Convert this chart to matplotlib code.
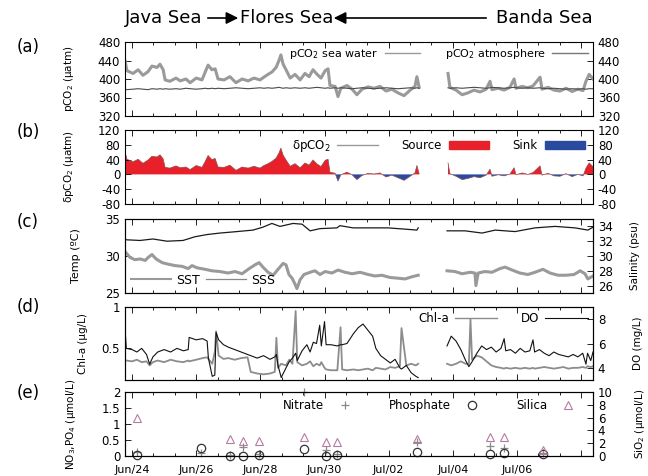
import numpy as np
import pandas as pd
import matplotlib
matplotlib.use("Agg")
import matplotlib.pyplot as plt
from matplotlib.ticker import MultipleLocator, FuncFormatter, FixedLocator
from matplotlib.patches import Patch, FancyArrowPatch
from matplotlib.lines import Line2D

plt.rcParams['font.family'] = ['DejaVu Sans']
plt.rcParams['font.size'] = 8.5
plt.rcParams['mathtext.default'] = 'regular'
plt.rcParams['axes.unicode_minus'] = False

START = pd.Timestamp('2015-06-24')
nan = np.nan

# ---- (a)/(b) pCO2, days since Jun/24 00:00 ----
pco2_days = [-0.22, -0.16, 0.03, 0.19, 0.34, 0.50, 0.62, 0.78, 0.87, 0.97,
             1.03, 1.18, 1.37, 1.50, 1.68, 1.81, 2.00, 2.18, 2.28, 2.37,
             2.49, 2.59, 2.68, 2.87, 3.05, 3.24, 3.43, 3.62, 3.80, 3.99,
             4.11, 4.24, 4.36, 4.49, 4.58, 4.64, 4.71, 4.80, 4.93, 5.08,
             5.24, 5.39, 5.52, 5.64, 5.77, 5.89, 6.02, 6.11, 6.17, 6.33,
             6.42, 6.51, 6.70, 6.86, 7.01, 7.17, 7.36, 7.54, 7.73, 7.92,
             8.10, 8.29, 8.48, 8.67, 8.82, 8.88, 8.95, 9.40, 9.85, 9.91,
             10.10, 10.29, 10.47, 10.66, 10.85, 11.04, 11.16, 11.22, 11.41, 11.60,
             11.78, 11.91, 11.97, 12.16, 12.34, 12.50, 12.72, 12.78, 12.97, 13.15,
             13.34, 13.53, 13.72, 13.90, 14.06, 14.15, 14.25, 14.37]
pco2_sea = [440, 418, 412, 420, 408, 416, 428, 425, 432, 420,
            398, 395, 402, 396, 400, 392, 402, 398, 415, 430,
            420, 422, 400, 398, 405, 392, 400, 396, 402, 398,
            404, 410, 415, 425, 440, 452, 432, 420, 402, 410,
            398, 412, 405, 420, 410, 402, 418, 422, 386, 384,
            362, 380, 386, 378, 366, 378, 383, 380, 384, 374,
            378, 370, 364, 376, 384, 405, 382, nan, 412, 382,
            376, 366, 370, 376, 372, 378, 395, 377, 380, 376,
            382, 400, 380, 384, 381, 385, 404, 378, 382, 376,
            374, 380, 373, 378, 375, 395, 410, 400]
pco2_atm = [378, 377, 378, 379, 378, 377, 379, 378, 379, 378,
            379, 378, 379, 378, 380, 379, 378, 379, 380, 379,
            380, 379, 380, 379, 380, 381, 380, 379, 380, 381,
            380, 381, 380, 381, 382, 381, 380, 381, 380, 381,
            380, 381, 380, 381, 382, 381, 380, 381, 380, 381,
            380, 381, 380, 379, 380, 381, 380, 379, 380, 381,
            380, 379, 380, 381, 380, 381, 380, nan, 381, 380,
            381, 380, 381, 382, 381, 380, 381, 382, 381, 380,
            381, 382, 381, 380, 381, 380, 381, 380, 379, 380,
            379, 378, 379, 378, 379, 378, 379, 379]

# ---- (c) SST / SSS ----
sst_days = [-0.22, -0.06, 0.09, 0.25, 0.41, 0.50, 0.62, 0.75, 0.94, 1.12,
            1.34, 1.56, 1.75, 1.87, 2.03, 2.28, 2.49, 2.74, 2.99, 3.21,
            3.43, 3.62, 3.83, 3.96, 4.08, 4.24, 4.40, 4.55, 4.71, 4.80,
            4.89, 4.99, 5.08, 5.14, 5.24, 5.36, 5.55, 5.70, 5.86, 6.02,
            6.23, 6.42, 6.64, 6.86, 7.11, 7.36, 7.57, 7.79, 8.04, 8.29,
            8.51, 8.73, 8.92, 9.40, 9.82, 10.07, 10.29, 10.54, 10.69, 10.72,
            10.79, 11.00, 11.22, 11.47, 11.63, 11.85, 12.09, 12.34, 12.56, 12.81,
            13.03, 13.28, 13.53, 13.78, 13.97, 14.12, 14.21, 14.37]
sst = [30.6, 29.8, 29.5, 29.6, 29.4, 29.8, 30.2, 29.6, 29.1, 28.9,
       28.7, 28.6, 28.3, 28.7, 28.4, 28.2, 28.0, 27.9, 27.7, 27.9,
       27.6, 28.2, 28.8, 29.1, 28.5, 27.8, 27.4, 28.2, 29.0, 28.8,
       27.5, 27.0, 26.2, 25.6, 26.8, 27.5, 27.8, 28.0, 27.5, 27.9,
       27.7, 28.1, 27.8, 27.6, 27.8, 27.5, 27.3, 27.4, 27.1, 27.0,
       26.9, 27.2, 27.4, nan, 28.0, 27.9, 27.6, 27.8, 27.7, 26.0,
       27.7, 27.9, 27.8, 28.3, 28.5, 28.1, 27.7, 27.5, 27.8, 28.2,
       27.7, 27.4, 27.4, 27.5, 28.0, 27.6, 26.9, 27.3]
sss_days = [-0.22, 0.25, 0.65, 1.09, 1.59, 1.96, 2.34, 2.74, 3.27, 3.77,
            4.08, 4.36, 4.61, 5.02, 5.30, 5.55, 5.86, 6.39, 6.48, 6.89,
            7.26, 7.98, 8.60, 8.88, 8.92, 9.40, 9.82, 10.38, 10.91, 11.32,
            11.94, 12.56, 13.19, 13.81, 14.21, 14.37]
sss = [32.2, 32.1, 32.3, 32.0, 32.1, 32.6, 32.9, 33.1, 33.3, 33.5,
       33.9, 34.4, 34.0, 34.4, 34.3, 33.4, 33.7, 33.8, 34.1, 33.8,
       33.8, 33.8, 33.6, 33.5, 33.8, nan, 33.4, 33.4, 33.1, 33.5,
       33.3, 33.8, 34.0, 33.8, 33.5, 33.9]

# ---- (d) Chl-a / DO ----
bio_days = [-0.22, -0.18, 0.00, 0.15, 0.30, 0.45, 0.55, 0.65, 0.80, 1.00,
            1.20, 1.40, 1.60, 1.75, 1.78, 2.00, 2.20, 2.34, 2.38, 2.50,
            2.58, 2.62, 2.70, 2.85, 3.00, 3.20, 3.40, 3.60, 3.70, 3.90,
            4.10, 4.30, 4.45, 4.50, 4.55, 4.65, 4.80, 4.90, 5.00, 5.10,
            5.15, 5.30, 5.45, 5.55, 5.65, 5.75, 5.85, 5.90, 6.00, 6.05,
            6.20, 6.40, 6.50, 6.55, 6.70, 6.90, 7.05, 7.20, 7.35, 7.50,
            7.60, 7.75, 7.90, 8.05, 8.20, 8.35, 8.40, 8.55, 8.70, 8.85,
            8.92, 9.40, 9.82, 9.95, 10.10, 10.25, 10.40, 10.50, 10.55, 10.60,
            10.75, 10.90, 11.05, 11.20, 11.35, 11.50, 11.60, 11.65, 11.80, 11.95,
            12.10, 12.25, 12.40, 12.50, 12.55, 12.70, 12.85, 13.00, 13.15, 13.30,
            13.45, 13.60, 13.75, 13.90, 14.05, 14.15, 14.20, 14.30, 14.37]
dox = [7.3, 5.6, 5.5, 5.3, 5.6, 5.1, 4.3, 4.9, 5.3, 5.5,
       5.3, 5.6, 5.4, 5.5, 6.5, 6.3, 6.4, 6.2, 4.8, 3.3,
       3.4, 6.9, 6.3, 5.9, 5.7, 5.5, 5.3, 5.1, 5.0, 4.8,
       5.0, 4.7, 4.9, 5.1, 4.2, 3.2, 4.0, 4.5, 4.8, 5.2,
       4.6, 5.4, 5.9, 5.3, 6.1, 6.0, 7.5, 5.8, 7.8, 5.9,
       5.9, 5.8, 5.9, 5.9, 6.0, 6.8, 7.3, 7.6, 7.1, 6.6,
       5.6, 5.0, 4.7, 4.4, 4.7, 4.0, 3.9, 4.2, 3.6, 3.3,
       3.2, nan, 5.8, 6.6, 6.2, 5.5, 4.6, 4.1, 4.3, 4.5,
       5.2, 5.8, 5.5, 5.7, 5.3, 5.6, 6.4, 5.4, 5.5, 5.2,
       5.6, 5.3, 5.4, 6.3, 5.3, 5.5, 5.2, 5.0, 5.3, 5.1,
       5.0, 4.9, 5.1, 4.9, 5.2, 4.3, 5.2, 4.6, 5.3]
chla = [0.35, 0.34, 0.33, 0.35, 0.32, 0.33, 0.28, 0.32, 0.34, 0.32,
        0.35, 0.33, 0.32, 0.34, 0.33, 0.35, 0.37, 0.38, 0.36, 0.30,
        0.45, 0.70, 0.40, 0.36, 0.37, 0.35, 0.37, 0.38, 0.20, 0.18,
        0.17, 0.18, 0.20, 0.62, 0.25, 0.30, 0.28, 0.35, 0.30, 0.95,
        0.32, 0.28, 0.30, 0.33, 0.27, 0.30, 0.28, 0.32, 0.25, 0.23,
        0.22, 0.22, 0.75, 0.23, 0.22, 0.23, 0.22, 0.23, 0.24, 0.22,
        0.25, 0.24, 0.23, 0.26, 0.25, 0.27, 0.74, 0.28, 0.30, 0.28,
        0.30, nan, 0.30, 0.28, 0.30, 0.33, 0.30, 0.30, 0.85, 0.35,
        0.40, 0.38, 0.33, 0.28, 0.26, 0.25, 0.24, 0.25, 0.24, 0.25,
        0.24, 0.25, 0.24, 0.25, 0.24, 0.25, 0.26, 0.25, 0.24, 0.25,
        0.26, 0.24, 0.25, 0.25, 0.26, 0.25, 0.27, 0.26, 0.27]

# ---- (e) nutrients ----
nut_days = [0.16, 2.15, 3.05, 3.45, 3.95, 5.36, 6.05, 6.38, 8.88, 11.16, 11.60, 12.80]
nitrate = [0.12, 0.08, 0.02, 0.29, 0.06, 2.0, 0.19, 0.05, 0.45, 0.31, 0.24, 0.10]
phosphate = [0.03, 0.24, 0.0, 0.0, 0.03, 0.21, 0.0, 0.02, 0.14, 0.06, 0.10, 0.06]
silica = [6.0, nan, 2.7, 2.4, 2.4, 3.0, 2.2, 2.2, 2.7, 2.9, 2.9, 0.94]

XMIN, XMAX = -0.22, 14.37

fig = plt.figure(figsize=(6.48, 4.76), dpi=100)
L, W = 125 / 648, 468 / 648


def panel(top, bottom):
    return fig.add_axes([L, 1 - bottom / 476, W, (bottom - top) / 476])


def style(ax, right=True):
    ax.set_xlim(XMIN, XMAX)
    ax.xaxis.set_major_locator(MultipleLocator(2))
    ax.xaxis.set_minor_locator(MultipleLocator(2 / 3))
    ax.tick_params(which='both', direction='in', top=True, right=right)
    ax.tick_params(which='major', length=4, width=0.6)
    ax.tick_params(which='minor', length=2.5, width=0.6)
    ax.tick_params(axis='x', labelbottom=False)
    for s in ax.spines.values():
        s.set_linewidth(0.8)


def datefmt(d, pos):
    if d > 13:
        return ''
    return (START + pd.Timedelta(days=d)).strftime('%b/%d')


x_p = np.array(pco2_days)
sea = np.array(pco2_sea, dtype=float)
atm = np.array(pco2_atm, dtype=float)
dpco2 = sea - atm

# (a)
axa = panel(42, 116)
style(axa)
axa.plot(x_p, sea, color='#9a9a9a', lw=2.2)
axa.plot(x_p, atm, color='#4a4a4a', lw=0.8)
axa.set_ylim(320, 480)
axa.yaxis.set_major_locator(MultipleLocator(40))
axa.tick_params(axis='y', labelright=True)
axa.set_ylabel('pCO$_2$ (µatm)', fontsize=7.5)
axa.yaxis.set_label_coords(-0.105, 0.5)
ha = [Line2D([], [], color='#9a9a9a', lw=1), Line2D([], [], color='#777777', lw=1)]
axa.legend(ha, ['pCO$_2$ sea water', 'pCO$_2$ atmosphere'], loc='upper right', ncol=2,
           frameon=False, markerfirst=False, fontsize=8, handlelength=3.2,
           columnspacing=2.2, borderaxespad=0.05, handletextpad=0.6)

# (b)
axb = panel(130, 204)
style(axb)
axb.fill_between(x_p, 0, dpco2, where=dpco2 >= 0, interpolate=True, color='#e8202a', lw=0)
axb.fill_between(x_p, 0, dpco2, where=dpco2 < 0, interpolate=True, color='#2a4aa0', lw=0)
axb.plot(x_p, dpco2, color='#8a5050', lw=0.5)
axb.set_ylim(-80, 120)
axb.yaxis.set_major_locator(MultipleLocator(40))
axb.tick_params(axis='y', labelright=True)
axb.set_ylabel('δpCO$_2$ (µatm)', fontsize=7.5)
axb.yaxis.set_label_coords(-0.105, 0.5)
hb = [Line2D([], [], color='#9a9a9a', lw=1), Patch(color='#e8202a'), Patch(color='#2a4aa0')]
axb.legend(hb, ['δpCO$_2$', 'Source', 'Sink'], loc='upper right', ncol=3,
           frameon=False, markerfirst=False, fontsize=8.5, handlelength=3.4,
           handleheight=0.6, columnspacing=2.0, borderaxespad=0.3, handletextpad=0.6)

# (c)
axc = panel(219, 293)
style(axc, right=False)
axc.plot(sst_days, sst, color='#9a9a9a', lw=2.2)
axc.set_ylim(25, 35)
axc.yaxis.set_major_locator(MultipleLocator(5))
axc.set_ylabel('Temp (ºC)', fontsize=8)
axc.yaxis.set_label_coords(-0.095, 0.5)
axc2 = axc.twinx()
axc2.plot(sss_days, sss, color='#1a1a1a', lw=0.9)
axc2.set_ylim(25, 35)
axc2.yaxis.set_major_locator(FixedLocator([26, 28, 30, 32, 34]))
axc2.tick_params(direction='in', length=4, width=0.6)
axc2.set_ylabel('Salinity (psu)', fontsize=7.5)
axc2.yaxis.set_label_coords(1.08, 0.5)
hc = [Line2D([], [], color='#9a9a9a', lw=1.5), Line2D([], [], color='#888888', lw=0.9)]
axc.legend(hc, ['SST', 'SSS'], loc='lower left', ncol=2, frameon=False,
           markerfirst=True, fontsize=9, handlelength=3.2, columnspacing=0.5,
           borderaxespad=0.1, handletextpad=0.4)

# (d)
axd = panel(307, 380)
style(axd, right=False)
axd.plot(bio_days, chla, color='#8c8c8c', lw=1.3)
axd.set_ylim(0.1, 1)
axd.yaxis.set_major_locator(FixedLocator([0.5, 1]))
axd.yaxis.set_major_formatter(FuncFormatter(lambda v, p: '%g' % v))
axd.set_ylabel('Chl-a (µg/L)', fontsize=7.5)
axd.yaxis.set_label_coords(-0.08, 0.5)
axd2 = axd.twinx()
axd2.plot(bio_days, dox, color='#111111', lw=0.8)
axd2.set_ylim(3, 9)
axd2.yaxis.set_major_locator(FixedLocator([4, 6, 8]))
axd2.tick_params(direction='in', length=4, width=0.6)
axd2.set_ylabel('DO (mg/L)', fontsize=7.5)
axd2.yaxis.set_label_coords(1.085, 0.5)
hd = [Line2D([], [], color='#8c8c8c', lw=1), Line2D([], [], color='#111111', lw=0.8)]
axd.legend(hd, ['Chl-a', 'DO'], loc='upper right', ncol=2, frameon=False,
           markerfirst=False, fontsize=8.5, handlelength=3.6, columnspacing=2.0,
           borderaxespad=0.05, handletextpad=0.5)

# (e)
axe = panel(392, 456)
style(axe, right=False)
axe.plot(nut_days, nitrate, ls='none', marker='+', ms=6, mew=0.9, color='#8a8a8a', clip_on=False)
axe.plot(nut_days, phosphate, ls='none', marker='o', ms=6, mew=0.9, mfc='none', mec='#333333', clip_on=False)
axe.set_ylim(0, 2)
axe.yaxis.set_major_locator(MultipleLocator(0.5))
axe.yaxis.set_major_formatter(FuncFormatter(lambda v, p: '%g' % v))
axe.set_ylabel('NO$_3$,PO$_4$ (µmol/L)', fontsize=7.5)
axe.yaxis.set_label_coords(-0.1, 0.5)
axe.tick_params(axis='x', labelbottom=True, labelsize=8, pad=6.5)
axe.xaxis.set_major_formatter(FuncFormatter(datefmt))
axe2 = axe.twinx()
axe2.plot(nut_days, silica, ls='none', marker='^', ms=6, mew=0.8, mfc='none', mec='#b57aa2', clip_on=False)
axe2.set_ylim(0, 10)
axe2.yaxis.set_major_locator(MultipleLocator(2))
axe2.tick_params(direction='in', length=4, width=0.6)
axe2.set_ylabel('SiO$_2$ (µmol/L)', fontsize=7.5)
axe2.yaxis.set_label_coords(1.085, 0.5)
he = [Line2D([], [], ls='none', marker='+', ms=6, mew=0.9, color='#8a8a8a'),
      Line2D([], [], ls='none', marker='o', ms=6, mew=0.9, mfc='none', mec='#333333'),
      Line2D([], [], ls='none', marker='^', ms=6, mew=0.8, mfc='none', mec='#b57aa2')]
axe2.legend(he, ['Nitrate', 'Phosphate', 'Silica'], loc='upper right', ncol=3,
            frameon=False, markerfirst=False, fontsize=8.5, handlelength=3.0,
            columnspacing=2.2, borderaxespad=0.2, handletextpad=0.3)

# panel letters
for lab, y in zip(['(a)', '(b)', '(c)', '(d)', '(e)'], [47, 132, 222, 307, 393]):
    fig.text(28 / 648, 1 - y / 476, lab, fontsize=12, ha='center', va='center')

# top title
ty = 1 - 18 / 476
fig.text(125 / 648, ty, 'Java Sea', fontsize=13, ha='left', va='center')
fig.text(240 / 648, ty, 'Flores Sea', fontsize=13, ha='left', va='center')
fig.text(593 / 648, ty, 'Banda Sea', fontsize=13, ha='right', va='center')
fig.add_artist(FancyArrowPatch((205 / 648, ty), (241 / 648, ty),
               transform=fig.transFigure, arrowstyle='-|>', mutation_scale=18,
               color='k', lw=1.2))
fig.add_artist(FancyArrowPatch((489 / 648, ty), (331 / 648, ty),
               transform=fig.transFigure, arrowstyle='-|>', mutation_scale=18,
               color='k', lw=1.2))

fig.savefig('out.png', dpi=100)
